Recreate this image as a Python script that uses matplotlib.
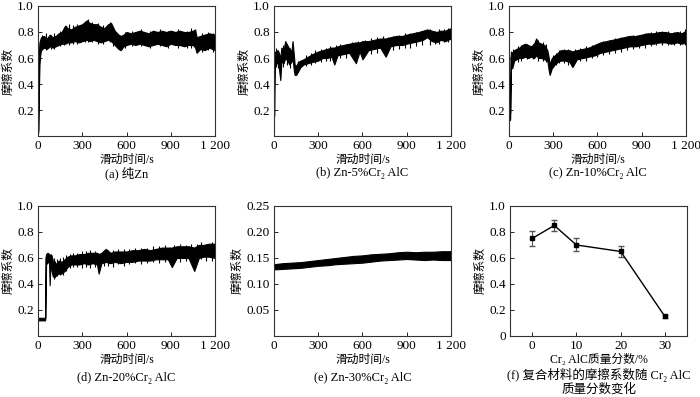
import numpy as np
import matplotlib
matplotlib.use("Agg")
import matplotlib.pyplot as plt

plt.rcParams['font.family'] = ['Liberation Serif', 'Noto Sans CJK SC', 'DejaVu Serif']
plt.rcParams['font.size'] = 8.5

# ---- friction traces: band envelopes (time s, upper, lower) ----
t_a = [0, 3, 6, 10, 15, 20, 40, 60, 80, 100, 120, 140, 160, 185, 200, 225, 250, 275, 300, 330,
       350, 375, 400, 425, 450, 475, 495, 520, 545, 560, 580, 600, 630, 660, 690, 720, 750, 780,
       810, 840, 870, 900, 930, 960, 990, 1020, 1050, 1065, 1075, 1100, 1130, 1160, 1200]
up_a = [0.10, 0.45, 0.65, 0.72, 0.74, 0.76, 0.77, 0.75, 0.78, 0.76, 0.77, 0.79, 0.80, 0.85, 0.83,
        0.82, 0.84, 0.85, 0.86, 0.89, 0.87, 0.86, 0.86, 0.84, 0.83, 0.86, 0.87, 0.81, 0.78, 0.77,
        0.78, 0.80, 0.79, 0.80, 0.81, 0.80, 0.79, 0.81, 0.80, 0.81, 0.80, 0.81, 0.80, 0.81, 0.80,
        0.80, 0.81, 0.82, 0.76, 0.77, 0.78, 0.79, 0.78]
lo_a = [0.02, 0.05, 0.35, 0.55, 0.62, 0.66, 0.68, 0.67, 0.69, 0.68, 0.69, 0.70, 0.71, 0.71, 0.72,
        0.72, 0.73, 0.72, 0.73, 0.74, 0.73, 0.74, 0.73, 0.72, 0.73, 0.74, 0.73, 0.70, 0.67, 0.66,
        0.69, 0.70, 0.71, 0.70, 0.71, 0.70, 0.69, 0.70, 0.71, 0.70, 0.69, 0.71, 0.70, 0.70, 0.69,
        0.70, 0.70, 0.68, 0.64, 0.67, 0.66, 0.68, 0.66]
# single noise spikes (time, low tip, high tip)
sp_t_a = [30, 55, 90, 110, 150, 175, 210, 240, 265, 290, 320, 340, 365, 410, 440, 485, 510, 590,
          640, 700, 760, 830, 880, 950, 1010, 1040, 1110, 1150, 1185]
sp_hi_a = [0.78, 0.79, 0.78, 0.79, 0.81, 0.84, 0.86, 0.85, 0.86, 0.85, 0.88, 0.90, 0.88, 0.87,
           0.85, 0.88, 0.84, 0.80, 0.81, 0.82, 0.81, 0.82, 0.81, 0.82, 0.81, 0.83, 0.79, 0.80, 0.79]
sp_lo_a = [0.66, 0.66, 0.67, 0.67, 0.69, 0.70, 0.70, 0.71, 0.71, 0.72, 0.72, 0.72, 0.72, 0.71,
           0.71, 0.72, 0.69, 0.68, 0.69, 0.69, 0.68, 0.69, 0.68, 0.68, 0.68, 0.68, 0.65, 0.66, 0.65]

t_b = [0, 2, 5, 10, 20, 30, 43, 50, 65, 76, 90, 105, 118, 126, 135, 140, 150, 165, 180, 200, 230,
       260, 300, 330, 360, 390, 409, 430, 470, 510, 555, 580, 600, 640, 680, 720, 757, 790, 830,
       870, 900, 940, 980, 1010, 1038, 1070, 1100, 1130, 1160, 1200]
up_b = [0.30, 0.55, 0.65, 0.64, 0.66, 0.65, 0.60, 0.68, 0.66, 0.73, 0.70, 0.67, 0.65, 0.73, 0.62,
        0.55, 0.54, 0.57, 0.58, 0.59, 0.61, 0.63, 0.65, 0.66, 0.67, 0.68, 0.68, 0.69, 0.70, 0.71,
        0.72, 0.72, 0.73, 0.73, 0.74, 0.75, 0.75, 0.76, 0.77, 0.77, 0.78, 0.79, 0.80, 0.81, 0.82,
        0.81, 0.80, 0.81, 0.81, 0.83]
lo_b = [0.15, 0.16, 0.55, 0.57, 0.56, 0.55, 0.43, 0.57, 0.56, 0.60, 0.58, 0.55, 0.57, 0.60, 0.50,
        0.47, 0.47, 0.50, 0.53, 0.55, 0.56, 0.57, 0.58, 0.60, 0.60, 0.61, 0.55, 0.62, 0.63, 0.64,
        0.56, 0.65, 0.59, 0.66, 0.67, 0.68, 0.61, 0.69, 0.70, 0.70, 0.71, 0.72, 0.73, 0.74, 0.76,
        0.73, 0.72, 0.74, 0.73, 0.75]
sp_t_b = [15, 25, 60, 85, 110, 160, 220, 250, 280, 320, 350, 380, 420, 450, 490, 530, 570, 620,
          660, 700, 740, 770, 810, 850, 890, 920, 960, 1000, 1060, 1090, 1120, 1150, 1180]
sp_hi_b = [0.68, 0.66, 0.70, 0.71, 0.68, 0.58, 0.62, 0.64, 0.66, 0.67, 0.68, 0.69, 0.70, 0.71,
           0.71, 0.72, 0.73, 0.74, 0.75, 0.76, 0.77, 0.76, 0.77, 0.78, 0.79, 0.79, 0.80, 0.81,
           0.82, 0.81, 0.82, 0.82, 0.83]
sp_lo_b = [0.53, 0.52, 0.53, 0.55, 0.52, 0.49, 0.54, 0.55, 0.56, 0.57, 0.58, 0.58, 0.59, 0.60,
           0.60, 0.62, 0.61, 0.62, 0.63, 0.64, 0.65, 0.66, 0.66, 0.67, 0.68, 0.68, 0.69, 0.70,
           0.70, 0.71, 0.71, 0.72, 0.72]

t_c = [0, 4, 8, 10, 14, 22, 35, 50, 70, 90, 110, 130, 150, 170, 184, 200, 220, 240, 260, 270, 276,
       290, 310, 330, 350, 380, 410, 430, 460, 500, 540, 580, 620, 660, 700, 740, 780, 820, 860,
       900, 940, 980, 1020, 1060, 1100, 1140, 1170, 1200]
up_c = [0.17, 0.16, 0.18, 0.60, 0.65, 0.64, 0.66, 0.67, 0.68, 0.70, 0.71, 0.70, 0.69, 0.71, 0.75,
        0.72, 0.71, 0.70, 0.66, 0.60, 0.55, 0.60, 0.62, 0.64, 0.66, 0.66, 0.66, 0.65, 0.66, 0.67,
        0.68, 0.70, 0.72, 0.73, 0.74, 0.75, 0.76, 0.77, 0.77, 0.78, 0.79, 0.79, 0.80, 0.80, 0.79,
        0.80, 0.79, 0.81]
lo_c = [0.12, 0.12, 0.13, 0.30, 0.55, 0.52, 0.58, 0.59, 0.60, 0.60, 0.61, 0.60, 0.61, 0.60, 0.62,
        0.60, 0.60, 0.59, 0.58, 0.50, 0.47, 0.52, 0.55, 0.57, 0.58, 0.58, 0.57, 0.53, 0.59, 0.60,
        0.61, 0.62, 0.64, 0.65, 0.66, 0.67, 0.68, 0.69, 0.69, 0.70, 0.71, 0.71, 0.72, 0.72, 0.71,
        0.72, 0.71, 0.72]
sp_t_c = [30, 60, 80, 120, 160, 195, 230, 250, 300, 320, 340, 370, 400, 450, 480, 520, 560, 600,
          640, 680, 720, 760, 800, 840, 880, 920, 960, 1000, 1040, 1080, 1120, 1160, 1190]
sp_hi_c = [0.67, 0.69, 0.70, 0.71, 0.71, 0.74, 0.72, 0.71, 0.62, 0.64, 0.66, 0.67, 0.67, 0.67,
           0.68, 0.69, 0.70, 0.71, 0.73, 0.74, 0.75, 0.76, 0.77, 0.78, 0.78, 0.79, 0.80, 0.81,
           0.81, 0.81, 0.80, 0.81, 0.82]
sp_lo_c = [0.56, 0.57, 0.58, 0.59, 0.59, 0.58, 0.58, 0.57, 0.53, 0.55, 0.56, 0.56, 0.55, 0.57,
           0.58, 0.58, 0.60, 0.61, 0.62, 0.63, 0.64, 0.65, 0.66, 0.67, 0.68, 0.68, 0.69, 0.70,
           0.70, 0.70, 0.70, 0.70, 0.70]

t_d = [5, 20, 35, 48, 50, 55, 65, 75, 79, 85, 92, 100, 110, 125, 140, 160, 180, 200, 225, 250,
       280, 310, 340, 370, 400, 411, 430, 460, 490, 520, 560, 600, 640, 680, 720, 760, 800, 840,
       880, 907, 940, 980, 1020, 1059, 1090, 1120, 1160, 1200]
up_d = [0.14, 0.14, 0.14, 0.14, 0.60, 0.63, 0.64, 0.63, 0.60, 0.63, 0.62, 0.58, 0.55, 0.56, 0.58,
        0.57, 0.59, 0.61, 0.62, 0.62, 0.63, 0.63, 0.64, 0.64, 0.64, 0.63, 0.64, 0.67, 0.64, 0.65,
        0.65, 0.65, 0.66, 0.66, 0.67, 0.66, 0.67, 0.68, 0.68, 0.68, 0.69, 0.69, 0.69, 0.68, 0.70,
        0.70, 0.71, 0.71]
lo_d = [0.12, 0.12, 0.12, 0.12, 0.14, 0.58, 0.58, 0.57, 0.39, 0.57, 0.50, 0.46, 0.45, 0.47, 0.48,
        0.48, 0.50, 0.53, 0.55, 0.55, 0.55, 0.56, 0.55, 0.56, 0.55, 0.48, 0.56, 0.57, 0.56, 0.57,
        0.56, 0.57, 0.57, 0.58, 0.58, 0.58, 0.59, 0.59, 0.59, 0.53, 0.60, 0.60, 0.60, 0.50, 0.60,
        0.61, 0.61, 0.60]
sp_t_d = [60, 70, 105, 118, 132, 150, 170, 190, 215, 240, 265, 295, 325, 355, 385, 445, 475, 505,
          540, 580, 620, 660, 700, 740, 780, 820, 860, 925, 960, 1000, 1040, 1075, 1105, 1140, 1180]
sp_hi_d = [0.64, 0.63, 0.60, 0.58, 0.59, 0.60, 0.61, 0.62, 0.63, 0.64, 0.64, 0.65, 0.65, 0.66,
           0.65, 0.66, 0.66, 0.66, 0.67, 0.67, 0.67, 0.68, 0.68, 0.68, 0.69, 0.69, 0.70, 0.70,
           0.71, 0.70, 0.71, 0.71, 0.72, 0.71, 0.72]
sp_lo_d = [0.55, 0.56, 0.44, 0.45, 0.46, 0.47, 0.47, 0.50, 0.52, 0.53, 0.53, 0.52, 0.53, 0.52,
           0.53, 0.54, 0.54, 0.53, 0.55, 0.54, 0.55, 0.56, 0.55, 0.56, 0.57, 0.56, 0.57, 0.57,
           0.57, 0.58, 0.57, 0.58, 0.59, 0.58, 0.58]

t_e = [0, 60, 120, 180, 240, 300, 360, 420, 480, 540, 600, 660, 720, 780, 840, 900, 960, 1020,
       1080, 1140, 1200]
up_e = [0.138, 0.140, 0.141, 0.142, 0.144, 0.146, 0.148, 0.150, 0.152, 0.154, 0.155, 0.157, 0.158,
        0.159, 0.161, 0.162, 0.161, 0.162, 0.162, 0.163, 0.163]
lo_e = [0.128, 0.129, 0.130, 0.131, 0.133, 0.135, 0.136, 0.138, 0.139, 0.140, 0.141, 0.143, 0.145,
        0.146, 0.147, 0.148, 0.147, 0.146, 0.147, 0.146, 0.146]
sp_t_e = []
sp_hi_e = []
sp_lo_e = []

# ---- panel (f): mean friction vs Cr2AlC content ----
content = [0, 5, 10, 20, 30]
mu_mean = [0.75, 0.85, 0.70, 0.65, 0.15]
mu_err = [0.06, 0.04, 0.05, 0.04, 0.01]

captions = ['(a) 纯Zn', '(b) Zn-5%Cr₂ AlC', '(c) Zn-10%Cr₂ AlC',
            '(d) Zn-20%Cr₂ AlC', '(e) Zn-30%Cr₂ AlC']
traces = [(t_a, up_a, lo_a, sp_t_a, sp_lo_a, sp_hi_a),
          (t_b, up_b, lo_b, sp_t_b, sp_lo_b, sp_hi_b),
          (t_c, up_c, lo_c, sp_t_c, sp_lo_c, sp_hi_c),
          (t_d, up_d, lo_d, sp_t_d, sp_lo_d, sp_hi_d),
          (t_e, up_e, lo_e, sp_t_e, sp_lo_e, sp_hi_e)]

fig = plt.figure(figsize=(7.0, 3.97), dpi=100)
lefts = [0.0543, 0.3914, 0.7271]
bottoms = [0.6574, 0.1537]
w, h = 0.2529, 0.3275


def style(ax):
    ax.tick_params(direction='in', length=3, width=0.6, labelsize=9.5, pad=3)
    for s in ax.spines.values():
        s.set_linewidth(0.8)
        s.set_color('#333333')


for i, (t, up, lo, st, slo, shi) in enumerate(traces):
    ax = fig.add_axes([lefts[i % 3], bottoms[i // 3], w, h])
    ax.fill_between(t, lo, up, color='black', linewidth=0.8, edgecolor='black')
    if st:
        ax.vlines(st, slo, shi, color='black', linewidth=0.8)
    ax.set_xlim(0, 1200)
    ax.set_xticks([0, 300, 600, 900, 1200])
    ax.set_xticklabels(['0', '300', '600', '900', '1 200'])
    if i == 4:
        ax.set_ylim(0, 0.25)
        ax.set_yticks([0.05, 0.10, 0.15, 0.20, 0.25])
        ax.set_yticklabels(['0.05', '0.10', '0.15', '0.20', '0.25'])
    else:
        ax.set_ylim(0, 1.0)
        ax.set_yticks([0.2, 0.4, 0.6, 0.8, 1.0])
    ax.set_xlabel('滑动时间/s', labelpad=1)
    ax.set_ylabel('摩擦系数', labelpad=2)
    style(ax)
    ax.text(0.5, -0.285 if i < 3 else -0.32, captions[i], transform=ax.transAxes,
            ha='center', va='center', fontsize=9)

axf = fig.add_axes([0.7286, 0.1537, w, h])
axf.errorbar(content, mu_mean, yerr=mu_err, color='black', linewidth=1.0, marker='s',
             markersize=3, ecolor='#555555', elinewidth=0.8, capsize=2)
axf.set_xlim(-5, 35)
axf.set_xticks([0, 10, 20, 30])
axf.set_ylim(0, 1.0)
axf.set_yticks([0, 0.2, 0.4, 0.6, 0.8, 1.0])
axf.set_yticklabels(['0', '0.2', '0.4', '0.6', '0.8', '1.0'])
axf.set_xlabel('Cr₂ AlC质量分数/%', labelpad=1)
axf.set_ylabel('摩擦系数', labelpad=2)
style(axf)
axf.text(0.5, -0.355, '(f) 复合材料的摩擦系数随 Cr₂ AlC\n质量分数变化', transform=axf.transAxes,
         ha='center', va='center', fontsize=9, linespacing=1.1)

fig.savefig('out.png', dpi=100)
